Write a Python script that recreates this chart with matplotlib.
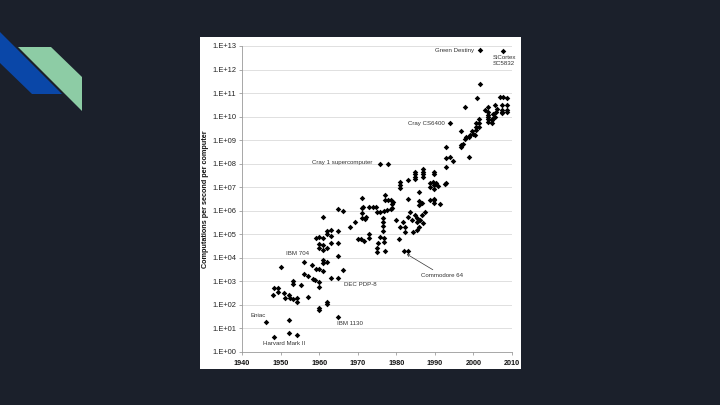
import matplotlib
matplotlib.use("Agg")
import matplotlib.pyplot as plt
from matplotlib.patches import Polygon, Rectangle

plt.rcParams['font.family'] = ['Liberation Sans', 'DejaVu Sans']

# computers: year of introduction and computations per second
years = [
    1946.1, 1948.2, 1952.2, 1952.2, 1954.2, 1948.2, 1949.3, 1948.0, 1949.3, 1951.0,
    1951.1, 1952.2, 1952.5, 1953.3, 1954.2, 1954.2, 1953.1, 1953.1, 1955.2, 1957.2,
    1950.1, 1956.1, 1956.1, 1957.2, 1958.1, 1958.5, 1959.3, 1959.9, 1961.1, 1958.9,
    1960.0, 1960.0, 1960.9, 1962.0, 1963.1, 1965.0, 1966.1, 1965.0, 1959.1, 1960.0,
    1961.1, 1960.0, 1961.1, 1960.0, 1961.1, 1962.1, 1962.1, 1963.1, 1963.1, 1962.1,
    1963.1, 1965.0, 1965.0, 1961.1, 1965.0, 1966.1, 1968.0, 1971.0, 1971.0, 1970.0,
    1970.8, 1961.1, 1960.0, 1960.0, 1962.1, 1962.1, 1965.0,
    # 1970s - 1980s
    1975.9, 1977.9, 1980.9, 1980.9, 1980.9, 1983.1, 1984.8, 1984.8, 1984.8, 1984.8,
    1986.8, 1986.8, 1986.8, 1986.8, 1989.8, 1989.8, 1988.7, 1989.6, 1990.4, 1990.9,
    1993.0, 1988.7, 1989.8, 1986.0, 1988.7, 1989.8, 1989.8, 1992.6, 1983.1, 1989.8,
    1977.0, 1977.0, 1977.9, 1978.7, 1979.2, 1978.8, 1971.1, 1971.3, 1973.0, 1973.9,
    1974.8, 1971.1, 1972.1, 1971.9, 1975.0, 1975.9, 1976.8, 1977.7, 1978.5, 1979.0,
    1976.6, 1976.6, 1976.6, 1976.6, 1975.9, 1976.9, 1976.7, 1975.2, 1974.9, 1974.9,
    1977.0, 1973.0, 1973.0, 1971.7, 1980.8, 1980.9, 1980.0, 1981.8, 1982.2, 1982.2,
    1983.5, 1983.1, 1984.0, 1984.8, 1985.3, 1986.1, 1986.6, 1987.4, 1986.0, 1985.4,
    1987.0, 1985.3, 1984.4, 1982.0, 1983.1, 1986.0, 1986.0, 1986.6, 1989.8, 1991.3,
    1969.3,
    # 1990s - 2000s
    2001.7, 2007.7, 2001.8, 2000.8, 1997.8, 1993.9, 1996.9, 1996.7, 1996.7, 1997.3,
    1992.9, 1992.9, 1993.9, 1994.7, 1992.9, 1998.8, 2001.5, 2001.5, 2000.6, 2000.6,
    2001.5, 2000.6, 1999.5, 1999.9, 1999.1, 2000.4, 1998.9, 1998.2, 1997.8, 2003.8,
    2003.0, 2003.8, 2003.8, 2003.8, 2004.7, 2004.7, 2003.8, 2005.8, 2005.1, 2003.9,
    2005.5, 2004.9, 2006.8, 2007.6, 2008.8, 2006.0, 2005.5, 2007.5, 2008.7, 2007.5,
    2008.7, 2007.5, 2008.7, 2007.5,
]
values = [
    1.9e1, 4.4e0, 2.3e1, 6.6e0, 5.5e0, 5.1e2, 5.4e2, 2.6e2, 3.6e2, 3.1e2,
    2.0e2, 2.6e2, 2.0e2, 1.7e2, 2.0e2, 1.3e2, 1.0e3, 7.4e2, 6.8e2, 2.2e2,
    4.2e3, 6.5e3, 2.0e3, 1.7e3, 5.0e3, 1.3e3, 3.2e3, 3.2e3, 2.8e3, 1.1e3,
    9.3e2, 6.0e2, 8.1e3, 6.9e3, 1.4e3, 1.4e3, 3.0e3, 1.2e4, 6.8e4, 7.9e4,
    6.8e4, 3.9e4, 3.6e4, 2.5e4, 2.1e4, 1.4e5, 1.0e5, 1.6e5, 8.7e4, 2.5e4,
    4.2e4, 4.2e4, 1.4e5, 5.2e5, 1.15e6, 9.8e5, 2.1e5, 1.26e6, 4.8e5, 6.2e4,
    6.2e4, 6.3e3, 7.4e1, 6.3e1, 1.3e2, 1.1e2, 3.2e1,
    9.3e7, 9.3e7, 1.7e7, 1.2e7, 8.9e6, 2.0e7, 4.6e7, 3.6e7, 2.8e7, 2.2e7,
    6.0e7, 4.6e7, 3.5e7, 2.7e7, 4.6e7, 3.6e7, 1.5e7, 1.7e7, 1.5e7, 1.15e7,
    1.5e7, 2.9e6, 2.9e6, 6.0e6, 1.05e7, 1.3e7, 8.7e6, 1.35e7, 3.1e6, 3.1e6,
    4.7e6, 2.9e6, 2.9e6, 2.9e6, 2.3e6, 1.9e6, 3.6e6, 1.5e6, 1.5e6, 1.5e6,
    1.5e6, 7.9e5, 5.6e5, 4.4e5, 8.9e5, 8.9e5, 1.0e6, 1.1e6, 1.2e6, 1.26e6,
    5.0e5, 3.5e5, 2.2e5, 1.45e5, 7.4e4, 6.8e4, 4.9e4, 4.2e4, 2.5e4, 1.8e4,
    2.0e4, 1.0e5, 6.8e4, 5.0e4, 6.2e4, 2.1e5, 4.1e5, 3.5e5, 2.1e5, 1.3e5,
    9.1e5, 5.6e5, 4.1e5, 6.6e5, 4.8e5, 4.1e5, 6.6e5, 9.1e5, 2.1e5, 3.5e5,
    3.0e5, 1.5e5, 1.3e5, 2.0e4, 2.0e4, 2.5e6, 1.8e6, 2.2e6, 2.2e6, 2.0e6,
    3.2e5,
    6.8e12, 6.3e12, 2.4e11, 6.3e10, 2.6e10, 5.5e9, 2.5e9, 6.2e8, 5.0e8, 6.9e8,
    5.2e8, 1.7e8, 1.9e8, 1.35e8, 7.1e7, 1.9e8, 7.6e9, 5.1e9, 5.1e9, 3.7e9,
    3.7e9, 2.7e9, 2.5e9, 1.9e9, 1.7e9, 1.7e9, 1.4e9, 1.3e9, 1.1e9, 2.6e10,
    2.0e10, 1.5e10, 1.2e10, 9.3e9, 7.2e9, 5.5e9, 6.0e9, 1.6e10, 1.26e10, 7.6e9,
    9.8e9, 7.6e9, 6.5e10, 6.9e10, 6.3e10, 2.2e10, 3.1e10, 3.1e10, 3.1e10, 2.0e10,
    2.0e10, 1.6e10, 1.5e10, 1.4e10,
]

x_ticks = [1940, 1950, 1960, 1970, 1980, 1990, 2000, 2010]
exponents = list(range(0, 14))

W, H = 720, 405


def fx(x, y):
    # pixel -> figure fraction
    return (x / W, 1 - y / H)


fig = plt.figure(figsize=(7.2, 4.05), dpi=100, facecolor='#1b202b')

# decorative shapes top left
blue = Polygon([fx(0, 32), fx(62, 94), fx(32, 94), fx(0, 63)], closed=True,
               transform=fig.transFigure, facecolor='#0a47a8', edgecolor='none')
green = Polygon([fx(18, 47), fx(51, 47), fx(82, 77), fx(82, 111)], closed=True,
                transform=fig.transFigure, facecolor='#8dcca5', edgecolor='none')
fig.add_artist(blue)
fig.add_artist(green)

# white picture panel (behind the axes)
fig.add_artist(Rectangle(fx(200, 369), 321 / W, 332 / H, transform=fig.transFigure,
                         facecolor='white', edgecolor='none', zorder=-5))

l, b = fx(242, 352)
ax = fig.add_axes([l, b, 270 / W, 306 / H])
ax.set_zorder(2)
ax.set_facecolor('none')
ax.set_yscale('log')
ax.set_xlim(1940, 2010)
ax.set_ylim(1, 1e13)

ax.set_yticks([10.0 ** e for e in exponents])
ax.set_yticklabels(['1.E+%02d' % e for e in exponents])
ax.yaxis.set_minor_locator(matplotlib.ticker.NullLocator())
ax.set_xticks(x_ticks)
ax.set_xticklabels([str(t) for t in x_ticks], fontweight='bold')

ax.tick_params(axis='y', labelsize=5.4, length=2, width=0.5, pad=2, colors='#888888',
               labelcolor='#222222')
ax.tick_params(axis='x', labelsize=5.2, length=2.5, width=0.5, pad=3, colors='#888888',
               labelcolor='#111111')

for s in ['top', 'right']:
    ax.spines[s].set_visible(False)
for s in ['left', 'bottom']:
    ax.spines[s].set_color('#999999')
    ax.spines[s].set_linewidth(0.6)

ax.yaxis.grid(True, color='#dadada', lw=0.6)
ax.set_axisbelow(True)

ax.scatter(years, values, marker='D', s=8, color='black', linewidths=0, zorder=3)

ax.set_ylabel('Computations per second per computer', fontsize=5.2, fontweight='bold',
              color='#111111')
ax.yaxis.set_label_coords(-0.124, 0.5)

tk = dict(fontsize=4.4, color='#333333', va='center')
ax.text(2000.1, 10 ** 12.83, 'Green Destiny', ha='right', **tk)
ax.text(2005.0, 10 ** 12.38, 'SiCortex\nSC5832', ha='left', linespacing=1.3, **tk)
ax.text(1992.6, 10 ** 9.70, 'Cray CS6400', ha='right', **tk)
ax.text(1958.2, 10 ** 8.06, 'Cray 1 supercomputer', ha='left', **tk)
ax.text(1951.3, 10 ** 4.19, 'IBM 704', ha='left', **tk)
ax.text(1966.5, 10 ** 2.86, 'DEC PDP-8', ha='left', **tk)
ax.text(1942.1, 10 ** 1.57, 'Eniac', ha='left', **tk)
ax.text(1964.7, 10 ** 1.19, 'IBM 1130', ha='left', **tk)
ax.text(1945.5, 10 ** 0.34, 'Harvard Mark II', ha='left', **tk)
ax.annotate('Commodore 64', xy=(1982.4, 10 ** 4.19), xytext=(1986.3, 10 ** 3.27),
            ha='left', va='center', fontsize=4.4, color='#333333',
            arrowprops=dict(arrowstyle='->', lw=0.5, color='#333333',
                            shrinkA=0, shrinkB=1, mutation_scale=4))

fig.savefig('out.png', dpi=100, facecolor=fig.get_facecolor())
